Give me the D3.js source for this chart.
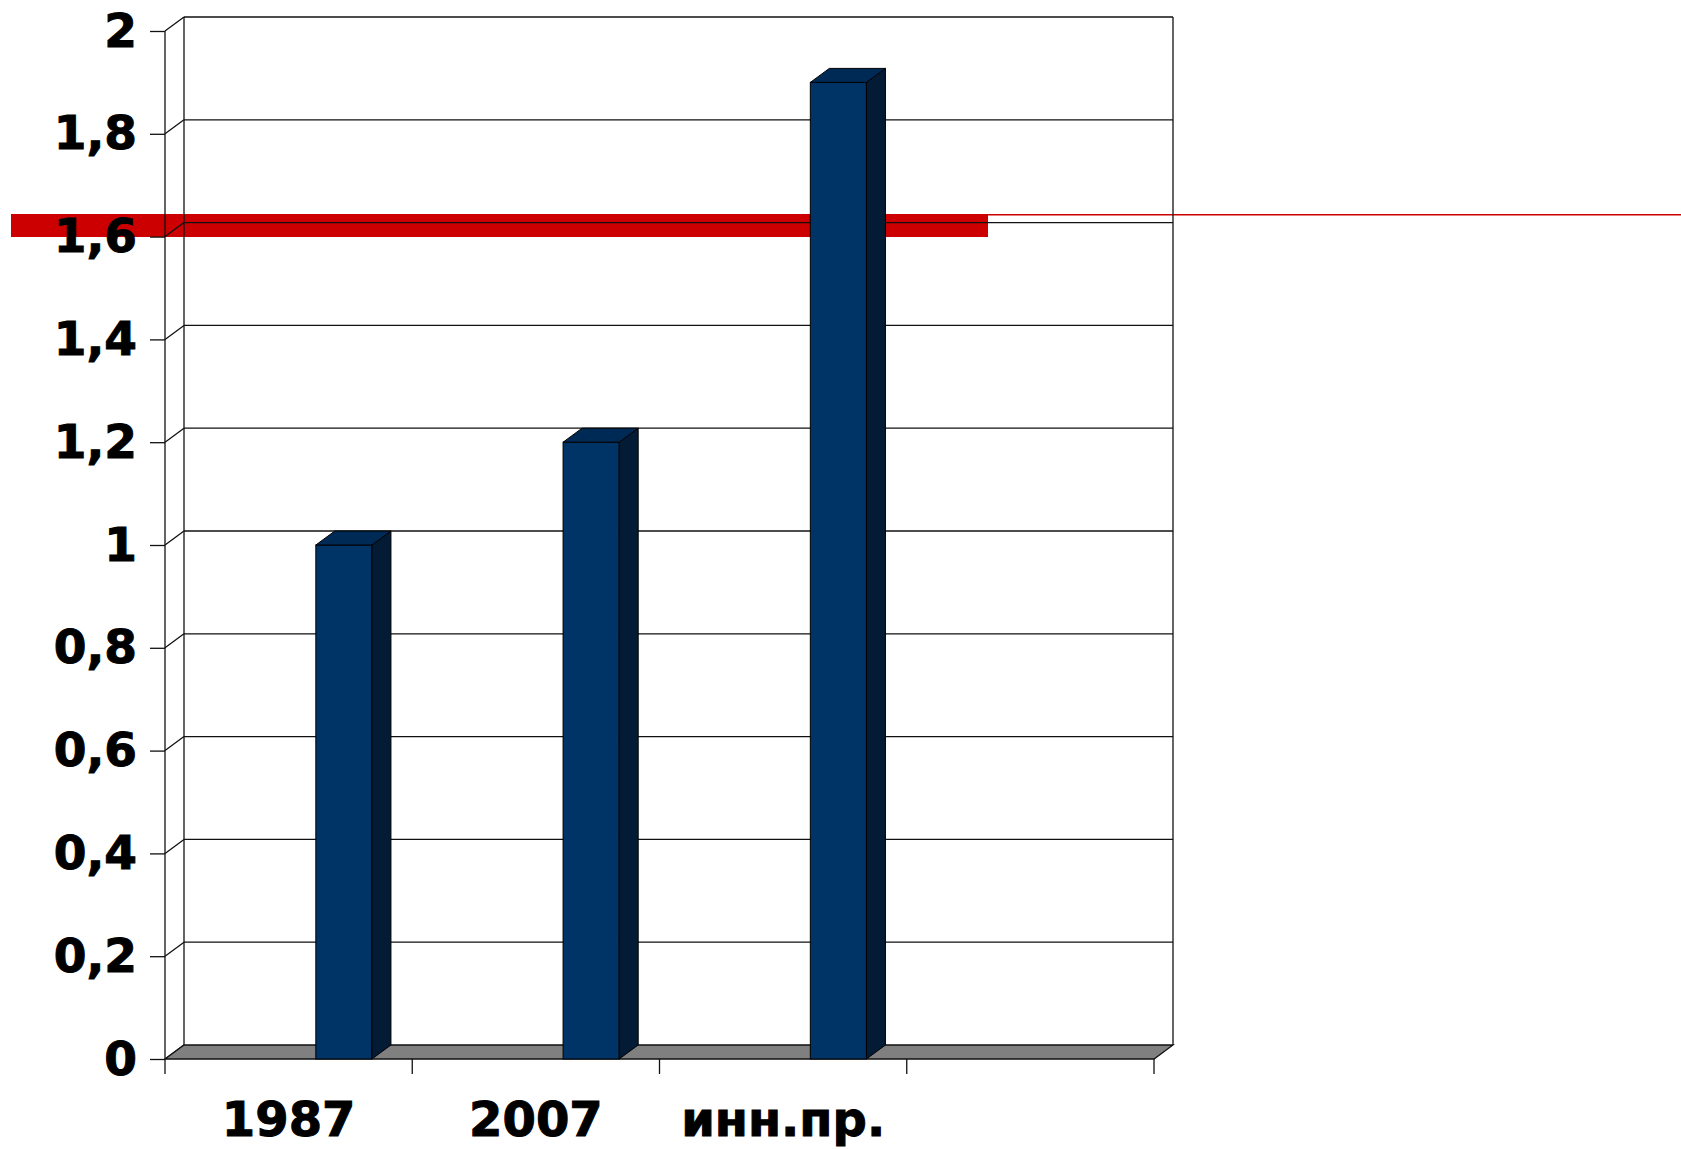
<!DOCTYPE html>
<html>
<head>
<meta charset="utf-8">
<script src="https://cdn.jsdelivr.net/npm/d3@7"></script>
<style>
  body { margin: 0; background: #fff; }
  text { font-family: "DejaVu Sans", Verdana, sans-serif; font-weight: bold; }
</style>
</head>
<body>
<script>
// chart data
var categories = ["1987", "2007", "инн.пр.", ""];
var values = [1, 1.2, 1.9, null];
var yTicks = [0, 0.2, 0.4, 0.6, 0.8, 1, 1.2, 1.4, 1.6, 1.8, 2];

// svg size and 3d depth offset
var w = 1681;
var h = 1149;
var depthX = 19;
var depthY = -14;

var svg = d3.select("body")
            .append("svg")
            .attr("width", w)
            .attr("height", h);

// front plane scales
var xScale = d3.scaleBand()
               .domain(categories)
               .range([165, 1154]);
var yScale = d3.scaleLinear()
               .domain([0, 2])
               .range([1059, 31]);

var x0 = xScale.range()[0];
var x1 = xScale.range()[1];
var bw = xScale.bandwidth();

// red marker band behind the chart
svg.append("rect")
   .attr("x", 11)
   .attr("y", 214)
   .attr("width", 977)
   .attr("height", 23)
   .attr("fill", "#cc0000");
svg.append("line")
   .attr("x1", 988)
   .attr("x2", w)
   .attr("y1", 214.7)
   .attr("y2", 214.7)
   .attr("stroke", "#cc0000")
   .attr("stroke-width", 1.6);

var walls = svg.append("g")
               .attr("stroke", "#111")
               .attr("stroke-width", 1.3)
               .attr("fill", "none");

// back wall gridlines
walls.selectAll(".grid")
     .data(yTicks.filter(d => d > 0))
     .enter()
     .append("line")
     .attr("x1", x0 + depthX)
     .attr("x2", x1 + depthX)
     .attr("y1", d => yScale(d) + depthY)
     .attr("y2", d => yScale(d) + depthY);

// side wall diagonals
walls.selectAll(".diag")
     .data(yTicks)
     .enter()
     .append("line")
     .attr("x1", x0)
     .attr("x2", x0 + depthX)
     .attr("y1", d => yScale(d))
     .attr("y2", d => yScale(d) + depthY);

// wall edges
walls.append("line")
     .attr("x1", x0).attr("x2", x0)
     .attr("y1", yScale(2)).attr("y2", yScale(0));
walls.append("line")
     .attr("x1", x0 + depthX).attr("x2", x0 + depthX)
     .attr("y1", yScale(2) + depthY).attr("y2", yScale(0) + depthY);
walls.append("line")
     .attr("x1", x1 + depthX).attr("x2", x1 + depthX)
     .attr("y1", yScale(2) + depthY).attr("y2", yScale(0) + depthY);

// floor
svg.append("polygon")
   .attr("points", [
     [x0, yScale(0)], [x1, yScale(0)],
     [x1 + depthX, yScale(0) + depthY], [x0 + depthX, yScale(0) + depthY]
   ].join(" "))
   .attr("fill", "#808080")
   .attr("stroke", "#111")
   .attr("stroke-width", 1.3);

// 3d columns
var bars = svg.selectAll(".bar")
              .data(categories.map((c, i) => ({cat: c, val: values[i]})).filter(d => d.val != null))
              .enter()
              .append("g")
              .attr("stroke", "#000")
              .attr("stroke-width", 1);

function barX(d) { return xScale(d.cat) + 0.61 * bw; }
var barW = 0.227 * bw;

bars.append("rect")
    .attr("x", barX)
    .attr("y", d => yScale(d.val))
    .attr("width", barW)
    .attr("height", d => yScale(0) - yScale(d.val))
    .attr("fill", "#003366");

bars.append("polygon")
    .attr("points", function(d) {
      var r = barX(d) + barW;
      return [[r, yScale(d.val)], [r + depthX, yScale(d.val) + depthY],
              [r + depthX, yScale(0) + depthY], [r, yScale(0)]].join(" ");
    })
    .attr("fill", "#041b35");

bars.append("polygon")
    .attr("points", function(d) {
      var l = barX(d);
      var t = yScale(d.val);
      return [[l, t], [l + depthX, t + depthY], [l + barW + depthX, t + depthY],
              [l + barW, t]].join(" ");
    })
    .attr("fill", "#002a56");

// y axis with comma decimals
var yAxis = svg.append("g")
               .attr("transform", "translate(" + x0 + ",0)")
               .call(d3.axisLeft(yScale)
                       .tickValues(yTicks)
                       .tickSize(15)
                       .tickPadding(13)
                       .tickFormat(d => String(d).replace(".", ",")));
yAxis.select(".domain").remove();
yAxis.selectAll("line").attr("stroke", "#111").attr("stroke-width", 1.3);
yAxis.selectAll("text")
     .attr("fill", "#000")
     .attr("stroke", "#000")
     .attr("stroke-width", 1)
     .style("font-size", "47px")
     .style("font-family", "'DejaVu Sans', Verdana, sans-serif")
     .style("font-weight", "bold");

// x axis labels
var xAxis = svg.append("g")
               .attr("transform", "translate(0," + yScale(0) + ")")
               .call(d3.axisBottom(xScale).tickSize(0).tickPadding(43));
xAxis.select(".domain").remove();
xAxis.selectAll("text")
     .attr("fill", "#000")
     .attr("stroke", "#000")
     .attr("stroke-width", 1)
     .style("font-size", "48px")
     .style("font-family", "'DejaVu Sans', Verdana, sans-serif")
     .style("font-weight", "bold");

// category boundary ticks
var bounds = categories.map(c => xScale(c)).concat([x1]);
svg.selectAll(".xtick")
   .data(bounds)
   .enter()
   .append("line")
   .attr("x1", d => d)
   .attr("x2", d => d)
   .attr("y1", yScale(0))
   .attr("y2", yScale(0) + 15)
   .attr("stroke", "#111")
   .attr("stroke-width", 1.3);
</script>
</body>
</html>
